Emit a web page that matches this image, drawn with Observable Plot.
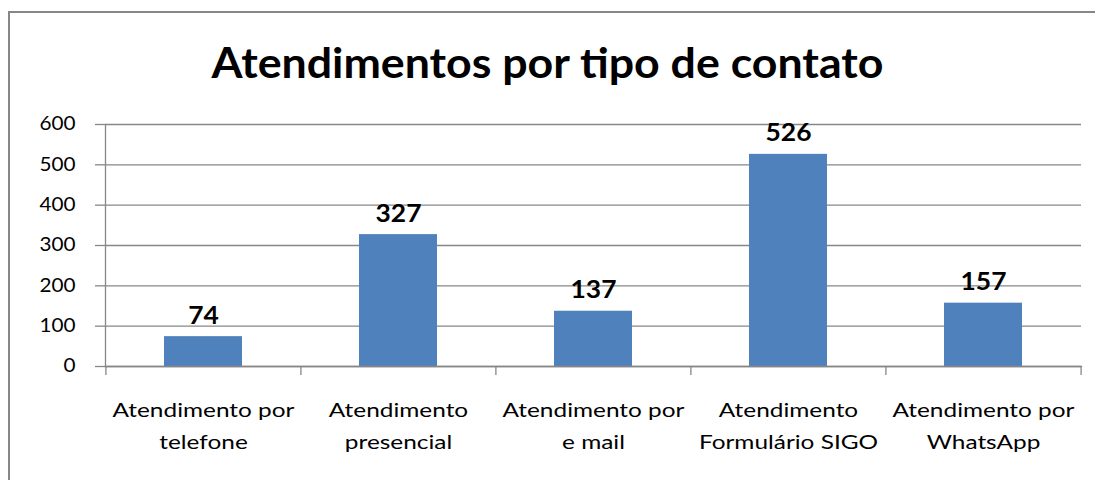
<!DOCTYPE html>
<html>
<head>
<meta charset="utf-8">
<script src="https://cdn.jsdelivr.net/npm/d3@7"></script>
<script src="https://cdn.jsdelivr.net/npm/@observablehq/plot@0.6"></script>
<style>
  html, body { margin: 0; padding: 0; background: #fff; overflow: hidden; }
  #wrap { position: relative; width: 1095px; height: 480px; overflow: hidden; font-family: Lato, sans-serif; }
  #title { position: absolute; left: 0; top: 41px; width: 1095px; text-align: center; font: 700 42px Lato, sans-serif; line-height: 42px; color: #000; transform: scaleX(1.064); }
  #chart { position: absolute; left: 0; top: 0; }
</style>
</head>
<body>
<div id="wrap">
  <div id="chart"></div>
  <div id="title">Atendimentos por tipo de contato</div>
</div>
<script>
const categories = [
  "Atendimento por\ntelefone",
  "Atendimento\npresencial",
  "Atendimento por\ne mail",
  "Atendimento\nFormulário SIGO",
  "Atendimento por\nWhatsApp"
];
const values = [74, 327, 137, 526, 157];
const yTicks = [0, 100, 200, 300, 400, 500, 600];

const data = categories.map((c, i) => ({category: c, value: values[i]}));

const W = 1095, H = 480;
const mL = 105, mR = 14, mT = 124, mB = 114;
const bw = (W - mL - mR) / categories.length;
const plotH = H - mT - mB;
const grey = "#878787";

const chart = Plot.plot({
  width: W,
  height: H,
  marginLeft: mL,
  marginRight: mR,
  marginTop: mT,
  marginBottom: mB,
  style: {fontFamily: "Lato, sans-serif", background: "transparent", color: "#000", overflow: "hidden"},
  x: {domain: categories, paddingInner: 0.6, paddingOuter: 0.3, label: null},
  y: {domain: [0, 600], label: null},
  marks: [
    Plot.gridY(yTicks, {stroke: grey, strokeOpacity: 1, strokeWidth: 1.3}),
    Plot.barY(data, {x: "category", y: "value", fill: "#4F81BD"}),
    Plot.frame({anchor: "left", stroke: grey, strokeWidth: 1.3}),
    Plot.frame({anchor: "bottom", stroke: grey, strokeWidth: 1.3}),
    Plot.ruleX(categories, {x: d => d, dx: -bw / 2, insetTop: plotH, insetBottom: -9, stroke: grey, strokeWidth: 1.3}),
    Plot.ruleX(categories.slice(-1), {x: d => d, dx: bw / 2, insetTop: plotH, insetBottom: -9, stroke: grey, strokeWidth: 1.3}),
    Plot.axisY(yTicks, {tickSize: 10, tickPadding: 20, fontSize: 18.5, stroke: grey, strokeWidth: 1.3, fill: "#000", label: null}),
    Plot.axisX({tickSize: 0, tickPadding: 28, fontSize: 20, lineHeight: 1.6, fill: "#000", label: null}),
    Plot.text(data, {x: "category", y: "value", text: d => String(d.value), lineAnchor: "bottom", dy: -13, fontSize: 24, fontWeight: 700, fill: "#000"})
  ]
});
// Horizontal stretch of the glyphs to mimic the reference's wider lettering
const stretch = {"y-axis tick label": 1.12, "x-axis tick label": 1.22, "text": 1.1};
chart.querySelectorAll("g[aria-label]").forEach(g => {
  const s = stretch[g.getAttribute("aria-label")];
  if (!s) return;
  g.querySelectorAll("text").forEach(t => {
    const tr = t.getAttribute("transform") || "";
    t.setAttribute("transform", tr + ` scale(${s},1)`);
  });
});
// Outer chart-area border (left and top edges visible; the rest is cut off)
d3.select(chart).append("path")
  .attr("d", `M9,${H + 5}V12H${W + 5}`)
  .attr("fill", "none")
  .attr("stroke", grey)
  .attr("stroke-width", 2);
document.getElementById("chart").appendChild(chart);
</script>
</body>
</html>
